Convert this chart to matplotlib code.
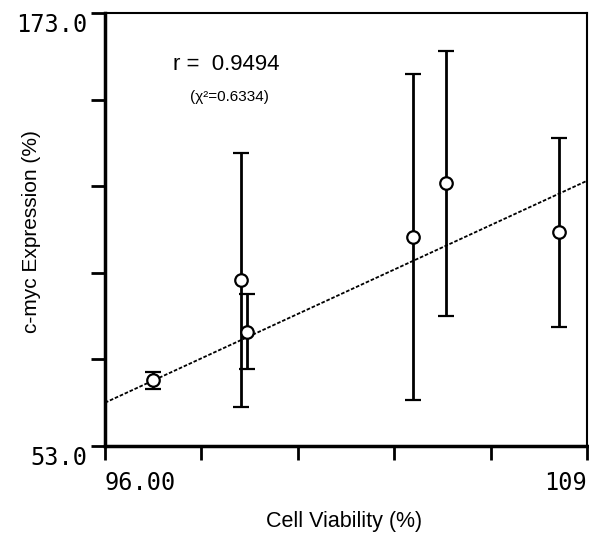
import matplotlib
matplotlib.use("Agg")
import matplotlib.pyplot as plt
import numpy as np

# Data
viability = [97.29, 99.67, 99.83, 104.32, 105.2, 108.25]
expression = [71.2, 99.0, 84.7, 111.0, 125.8, 112.2]
errors = [2.3, 35.3, 10.4, 45.2, 36.8, 26.2]

fit_x = [96.0, 109.0]
fit_y = [65.0, 126.5]

x_ticks = [96.0, 98.6, 101.2, 103.8, 106.4, 109.0]
x_tick_labels = ["96.00", "", "", "", "", "109"]
y_ticks = [53.0, 77.0, 101.0, 125.0, 149.0, 173.0]
y_tick_labels = ["53.0", "", "", "", "", "173.0"]

fig = plt.figure(figsize=(5.89, 5.39), dpi=100)
ax = fig.add_axes([105/589, 1-446/539, 482/589, 433/539])

ax.plot(fit_x, fit_y, color="black", lw=1.3, ls=(0, (2, 1)), zorder=1)
ax.errorbar(viability, expression, yerr=errors, fmt="o", mfc="white", mec="black",
            ms=9, mew=1.6, ecolor="black", elinewidth=2, capsize=6, capthick=2, zorder=3)

ax.set_xlim(96, 109)
ax.set_ylim(53, 173)
ax.set_xticks(x_ticks)
ax.set_xticklabels(x_tick_labels, family="DejaVu Sans Mono", fontsize=17)
ax.set_yticks(y_ticks)
ax.set_yticklabels(y_tick_labels, family="DejaVu Sans Mono", fontsize=17)
ax.tick_params(axis="both", direction="out", length=10, width=2)
ax.tick_params(axis="y", pad=3)
ax.tick_params(axis="x", pad=8)
xl = ax.get_xticklabels()
xl[0].set_ha("left")
xl[-1].set_ha("right")
yl = ax.get_yticklabels()
yl[0].set_va("top")
yl[-1].set_va("top")

for s in ["left", "bottom"]:
    ax.spines[s].set_linewidth(2.5)
for s in ["top", "right"]:
    ax.spines[s].set_linewidth(1.5)

lab = dict(family="Liberation Sans", stretch="normal", weight="normal")
ax.set_xlabel("Cell Viability (%)", fontsize=15.5, **lab)
ax.set_ylabel("c-myc Expression (%)", fontsize=15, **lab)
ax.xaxis.set_label_coords((344 - 105) / 482, -(522 - 446) / 433)
ax.yaxis.set_label_coords((32 - 105) / 482, (446 - 232) / 433)
ax.xaxis.label.set_va("center")
ax.yaxis.label.set_va("center")

fig.text(226/589, 1-65/539, "r =  0.9494", fontsize=16, ha="center", va="center", **lab)
fig.text(229/589, 1-97/539, "(χ²=0.6334)", fontsize=11, ha="center", va="center", **lab)

fig.savefig("out.png", dpi=100)
